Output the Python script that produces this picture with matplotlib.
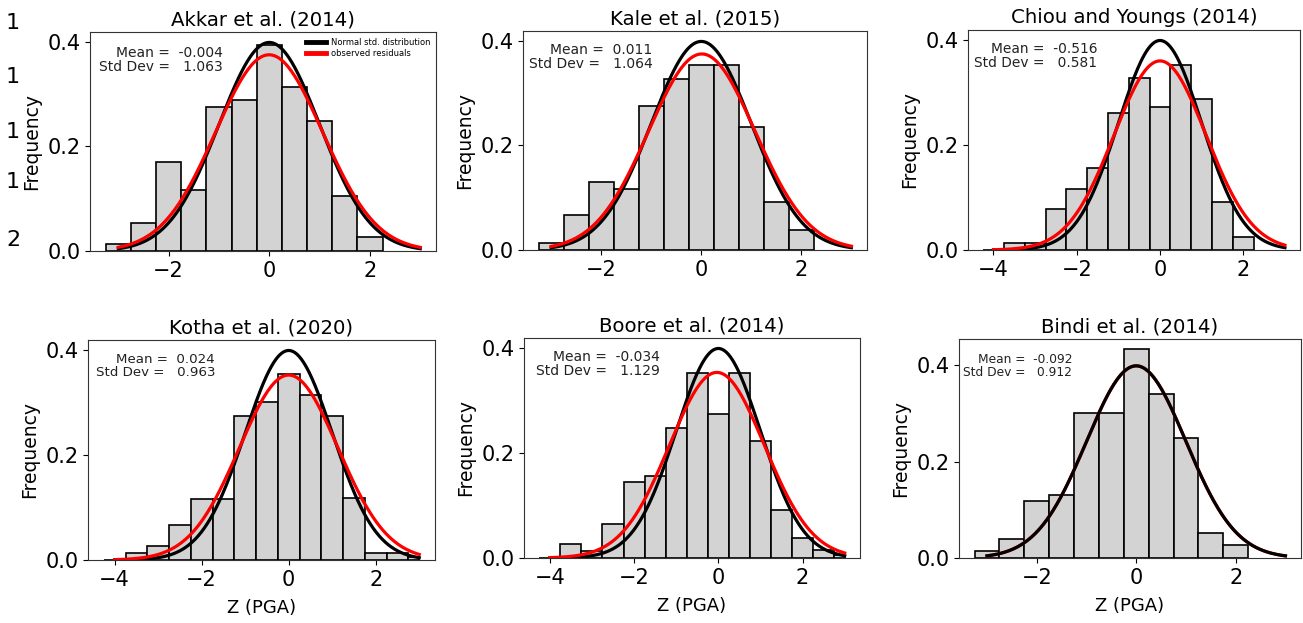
import numpy as np
import matplotlib
matplotlib.use("Agg")
import matplotlib.pyplot as plt
from matplotlib.ticker import MultipleLocator

# model names and printed stats
titles = ["Akkar et al. (2014)", "Kale et al. (2015)", "Chiou and Youngs (2014)",
          "Kotha et al. (2020)", "Boore et al. (2014)", "Bindi et al. (2014)"]
mean_txt = ["-0.004", "0.011", "-0.516", "0.024", "-0.034", "-0.092"]
std_txt = ["1.063", "1.064", "0.581", "0.963", "1.129", "0.912"]

# histogram bin edges and density heights
edges_akkar = [-3.25, -2.75, -2.25, -1.75, -1.25, -0.75, -0.25, 0.25, 0.75, 1.25, 1.75, 2.25]
dens_akkar = [0.013, 0.053, 0.170, 0.117, 0.275, 0.288, 0.394, 0.314, 0.248, 0.105, 0.026]

edges_kale = [-3.25, -2.75, -2.25, -1.75, -1.25, -0.75, -0.25, 0.25, 0.75, 1.25, 1.75, 2.25]
dens_kale = [0.014, 0.066, 0.131, 0.117, 0.275, 0.327, 0.353, 0.353, 0.236, 0.092, 0.039]

edges_chiou = [-4.25, -3.75, -3.25, -2.75, -2.25, -1.75, -1.25, -0.75, -0.25, 0.25, 0.75, 1.25, 1.75, 2.25]
dens_chiou = [0.0, 0.013, 0.013, 0.078, 0.117, 0.156, 0.261, 0.327, 0.273, 0.353, 0.287, 0.092, 0.025]

edges_kotha = [-4.25, -3.75, -3.25, -2.75, -2.25, -1.75, -1.25, -0.75, -0.25, 0.25, 0.75, 1.25, 1.75, 2.25, 2.75, 3.0]
dens_kotha = [0.0, 0.013, 0.026, 0.066, 0.117, 0.117, 0.275, 0.301, 0.354, 0.314, 0.275, 0.118, 0.013, 0.013, 0.005]

edges_boore = [-4.25, -3.75, -3.25, -2.75, -2.25, -1.75, -1.25, -0.75, -0.25, 0.25, 0.75, 1.25, 1.75, 2.25, 2.75, 3.0]
dens_boore = [0.0, 0.027, 0.013, 0.065, 0.144, 0.157, 0.248, 0.352, 0.275, 0.352, 0.223, 0.091, 0.038, 0.015, 0.006]

edges_bindi = [-3.25, -2.75, -2.25, -1.75, -1.25, -0.75, -0.25, 0.25, 0.75, 1.25, 1.75, 2.25]
dens_bindi = [0.014, 0.040, 0.118, 0.130, 0.301, 0.301, 0.433, 0.341, 0.249, 0.052, 0.026]

all_edges = [edges_akkar, edges_kale, edges_chiou, edges_kotha, edges_boore, edges_bindi]
all_dens = [dens_akkar, dens_kale, dens_chiou, dens_kotha, dens_boore, dens_bindi]

# fitted normal of the residuals (red) and curve x-range
red_mu = [-0.004, 0.011, 0.0, 0.0, -0.034, 0.0]
red_sigma = [1.063, 1.064, 1.108, 1.133, 1.129, 1.0]
curve_start = [-3, -3, -4, -4, -4, -3]
curve_end = [3, 3, 3, 3, 3, 3]

# axes boxes in pixels: left, top, right, bottom
W, H = 1303, 623
boxes = [(90, 32, 436, 251), (523, 31, 867, 250), (968, 30, 1300, 250),
         (88, 340, 435, 560), (524, 338, 860, 558), (959, 339, 1301, 558)]
txt_pos = [(0.384, 0.937), (0.377, 0.945), (0.39, 0.947),
           (0.366, 0.942), (0.405, 0.945), (0.331, 0.938)]
txt_size = [10, 10, 9.9, 9.6, 10, 8.8]


def npdf(x, mu, s):
    return np.exp(-0.5 * ((x - mu) / s) ** 2) / (s * np.sqrt(2 * np.pi))


fig = plt.figure(figsize=(W / 100, H / 100), dpi=100)

for i in range(6):
    l, t, r, b = boxes[i]
    ax = fig.add_axes([l / W, (H - b) / H, (r - l) / W, (b - t) / H])
    e = np.array(all_edges[i])
    ax.bar(e[:-1], all_dens[i], width=np.diff(e), align="edge",
           color="lightgray", edgecolor="black", linewidth=1.2)
    x = np.linspace(curve_start[i], curve_end[i], 300)
    if i == 5:
        ax.plot(x, npdf(x, red_mu[i], red_sigma[i]), color="red", lw=2.3)
        ax.plot(x, npdf(x, 0, 1), color="black", lw=2.3)
    else:
        ax.plot(x, npdf(x, 0, 1), color="black", lw=2.3, label="Normal std. distribution")
        ax.plot(x, npdf(x, red_mu[i], red_sigma[i]), color="red", lw=2.3, label="observed residuals")
    ax.set_title(titles[i], fontsize=14.2, pad=5)
    ax.set_ylabel("Frequency", fontsize=13.5)
    if i >= 3:
        ax.set_xlabel("Z (PGA)", fontsize=13, labelpad=7)
    ax.xaxis.set_major_locator(MultipleLocator(2))
    ax.set_yticks([0.0, 0.2, 0.4])
    ax.tick_params(labelsize=15)
    for sp in ax.spines.values():
        sp.set_color("#333333")
    ax.text(txt_pos[i][0], txt_pos[i][1],
            "Mean =  " + mean_txt[i] + "\nStd Dev =   " + std_txt[i],
            transform=ax.transAxes, ha="right", va="top", multialignment="right",
            fontsize=txt_size[i], color="#222222", linespacing=1.0)
    if i == 0:
        ax.legend(loc="upper right", frameon=False, fontsize=6, handlelength=2.4,
                  borderaxespad=0.3, labelspacing=0.3, handletextpad=0.6)
        for ln in ax.get_legend().get_lines():
            ln.set_linewidth(3.5)

# stray characters cut off at the left edge of the source image
for ch, yy in [("1", 23), ("1", 77), ("1", 132), ("1", 182), ("2", 240)]:
    fig.text(13 / W, 1 - yy / H, ch, fontsize=16, ha="center", va="center")

fig.savefig("out.png", dpi=100)
